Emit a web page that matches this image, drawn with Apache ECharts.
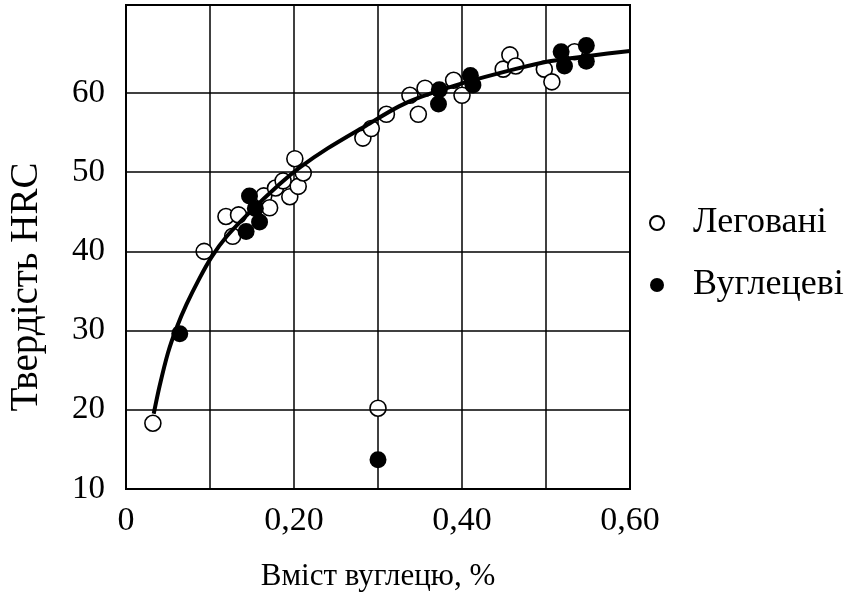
<!DOCTYPE html>
<html>
<head>
<meta charset="utf-8">
<script src="https://cdn.jsdelivr.net/npm/echarts@6/dist/echarts.min.js"></script>
<style>
  html, body { margin: 0; padding: 0; background: #fff; }
  #chart { width: 861px; height: 592px; }
</style>
</head>
<body>
<div id="chart"></div>
<script>
// леговані сталі (світлі кружки)
const alloyC = [0.032, 0.093, 0.119, 0.134, 0.127, 0.164, 0.171, 0.178, 0.187, 0.195, 0.201, 0.205, 0.211,
  0.282, 0.292, 0.31, 0.338, 0.348, 0.356, 0.39, 0.4, 0.449, 0.457, 0.464, 0.498, 0.507, 0.534, 0.3]
const alloyHRC = [18.3, 40, 44.4, 44.6, 41.9, 47, 45.5, 48, 48.9, 46.9, 51.7, 48.2, 49.9,
  54.3, 55.5, 57.3, 59.7, 57.3, 60.6, 61.6, 59.7, 63, 64.8, 63.4, 63, 61.4, 65.2, 20.2]
// вуглецеві сталі (чорні кружки)
const carbonC = [0.064, 0.143, 0.147, 0.154, 0.159, 0.372, 0.373, 0.41, 0.413, 0.518, 0.522, 0.548, 0.548, 0.3]
const carbonHRC = [29.6, 42.5, 47, 45.4, 43.7, 58.6, 60.4, 62.2, 61, 65.2, 63.4, 66, 64, 13.7]
// усереднююча крива
const curveC = [0.033, 0.04, 0.05, 0.06, 0.072, 0.087, 0.102, 0.12, 0.146, 0.183, 0.207, 0.24, 0.286, 0.325, 0.351, 0.4, 0.463, 0.504, 0.553, 0.6]
const curveHRC = [19.5, 23, 27.2, 30.3, 33.3, 36.5, 39.3, 41.9, 44.8, 48.5, 50.6, 53, 55.9, 58.3, 59.5, 61.2, 63, 64, 64.7, 65.3]
// горизонтальні лінії сітки
const yGrid = [20, 30, 40, 50, 60]

const zip = (a, b) => a.map((v, i) => [v, b[i]])
const font = 'Liberation Serif'

const myChart = echarts.init(document.getElementById('chart'))
myChart.setOption({
  animation: false,
  textStyle: { fontFamily: font },
  grid: {
    left: 126, right: 231, top: 5, bottom: 103,
    outerBoundsMode: 'none', containLabel: false,
    show: true, borderColor: '#000', borderWidth: 2
  },
  legend: {
    orient: 'vertical',
    left: 644,
    top: 199,
    itemWidth: 14,
    itemHeight: 14,
    itemGap: 24,
    data: ['Леговані', 'Вуглецеві'],
    textStyle: { fontFamily: font, fontSize: 36, color: '#000', lineHeight: 38, padding: [0, 0, 0, 24] }
  },
  xAxis: {
    type: 'value',
    min: 0,
    max: 0.6,
    interval: 0.1,
    name: 'Вміст вуглецю, %',
    nameLocation: 'middle',
    nameGap: 72,
    nameTextStyle: { fontFamily: font, fontSize: 31, color: '#000' },
    axisLine: { lineStyle: { color: '#000', width: 2 } },
    axisTick: { show: false },
    splitLine: { lineStyle: { color: '#000', width: 1.5 } },
    axisLabel: {
      fontFamily: font, fontSize: 34, color: '#000', margin: 15,
      formatter: v => {
        const k = Math.round(v * 10)
        if (k % 2) return ''
        return k === 0 ? '0' : v.toFixed(2).replace('.', ',')
      }
    }
  },
  yAxis: {
    type: 'value',
    min: 10,
    max: 71.1,
    interval: 10,
    name: 'Твердість HRC',
    nameLocation: 'middle',
    nameGap: 80,
    nameTextStyle: { fontFamily: font, fontSize: 39, color: '#000', padding: [0, 80, 0, 0] },
    axisLine: { lineStyle: { color: '#000', width: 2 } },
    axisTick: { show: false },
    splitLine: { show: false },
    axisLabel: {
      fontFamily: font, fontSize: 33, color: '#000', margin: 21,
      formatter: v => (v > 65 ? '' : String(v))
    }
  },
  series: [
    {
      name: 'Леговані',
      type: 'scatter',
      z: 2,
      symbol: 'circle',
      symbolSize: 16,
      itemStyle: { color: '#fff', borderColor: '#000', borderWidth: 1.6, opacity: 1 },
      data: zip(alloyC, alloyHRC)
    },
    {
      name: 'крива',
      type: 'line',
      z: 3,
      smooth: 0.3,
      showSymbol: false,
      silent: true,
      lineStyle: { color: '#000', width: 4 },
      data: zip(curveC, curveHRC),
      markLine: {
        silent: true,
        symbol: 'none',
        label: { show: false },
        lineStyle: { color: '#000', width: 1.5, type: 'solid' },
        data: yGrid.map(v => ({ yAxis: v }))
      }
    },
    {
      name: 'Вуглецеві',
      type: 'scatter',
      z: 4,
      symbol: 'circle',
      symbolSize: 17,
      itemStyle: { color: '#000', opacity: 1 },
      data: zip(carbonC, carbonHRC)
    }
  ]
})
</script>
</body>
</html>
